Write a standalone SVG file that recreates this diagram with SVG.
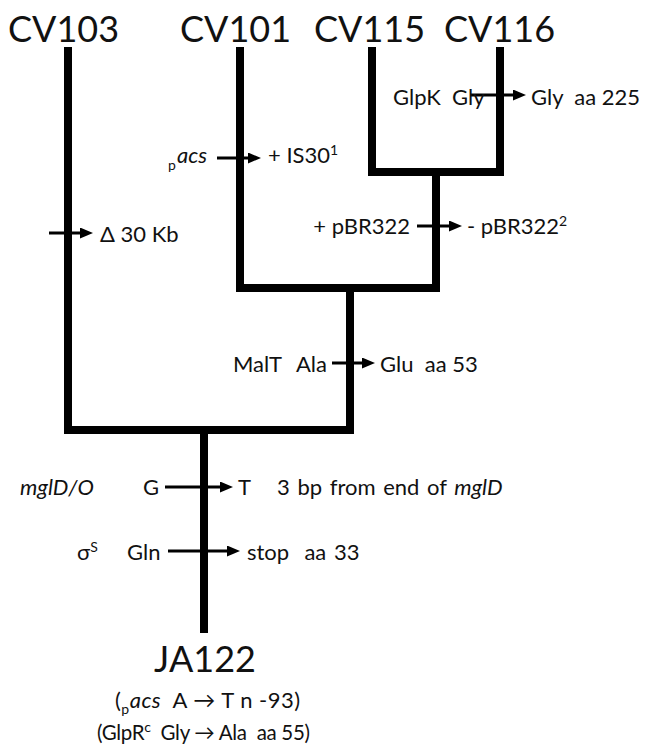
<svg xmlns="http://www.w3.org/2000/svg" width="645" height="747" viewBox="0 0 645 747">
<style>
  text { font-family: Lato, "Open Sans", "Liberation Sans", sans-serif; fill: #111; white-space: pre; }
  .big { font-size: 36px; }
  .lbl { font-size: 22px; }
  .it { font-style: italic; }
  .sm { font-size: 14px; }
  .ws { word-spacing: 2px; }
  .tree { fill: none; stroke: #000; stroke-width: 8; stroke-linejoin: miter; stroke-linecap: butt; }
  .arr { stroke: #000; stroke-width: 3; marker-end: url(#ah); }
</style>
<defs>
  <marker id="ah" markerUnits="userSpaceOnUse" markerWidth="14" markerHeight="11" refX="4" refY="5.5" orient="auto">
    <path d="M0,0 L13,5.5 L0,11 Z" fill="#000"/>
  </marker>
</defs>

<g id="connectors">
  <path class="tree" d="M68,47 V430 H350 V288"/>
  <path class="tree" d="M240,47 V288 H436 V172"/>
  <path class="tree" d="M372,47 V172 H500 V47"/>
  <path class="tree" d="M204,430 V633"/>
  <line class="arr" x1="470" y1="95" x2="517" y2="95"/>
  <line class="arr" x1="217" y1="158" x2="252" y2="158"/>
  <line class="arr" x1="49" y1="233" x2="84" y2="233"/>
  <line class="arr" x1="417" y1="226" x2="453" y2="226"/>
  <line class="arr" x1="332" y1="363" x2="366" y2="363"/>
  <line class="arr" x1="165" y1="487" x2="224" y2="487"/>
  <line class="arr" x1="168" y1="551" x2="231" y2="551"/>
</g>

<g id="CV103"><text class="big" x="8" y="42">CV103</text></g>
<g id="CV101"><text class="big" x="180" y="42">CV101</text></g>
<g id="CV115"><text class="big" x="314" y="42">CV115</text></g>
<g id="CV116"><text class="big" x="444" y="42">CV116</text></g>

<g id="mut-glpk">
  <text class="lbl" x="393" y="105">GlpK  Gly</text>
  <text class="lbl" x="531" y="105">Gly  aa 225</text>
</g>
<g id="mut-acs">
  <text class="sm" x="168" y="170">p</text>
  <text class="lbl it" x="177" y="163">acs</text>
  <text class="lbl" x="268" y="163">+ IS30<tspan class="sm" dy="-8">1</tspan></text>
</g>
<g id="mut-del">
  <text class="lbl" x="100" y="242">Δ 30 Kb</text>
</g>
<g id="mut-pbr">
  <text class="lbl" x="410" y="234" text-anchor="end">+ pBR322</text>
  <text class="lbl" x="467" y="234">- pBR322<tspan class="sm" dy="-8">2</tspan></text>
</g>
<g id="mut-malt">
  <text class="lbl" x="233" y="372">MalT</text>
  <text class="lbl" x="327" y="372" text-anchor="end">Ala</text>
  <text class="lbl" x="380" y="372">Glu  aa 53</text>
</g>
<g id="mut-mgl">
  <text class="lbl it" x="20" y="495">mglD/O</text>
  <text class="lbl" x="143" y="495">G</text>
  <text class="lbl" x="238" y="495">T</text>
  <text class="lbl ws" x="277" y="495">3 bp from end of <tspan class="it">mglD</tspan></text>
</g>
<g id="mut-rpos">
  <text class="lbl" x="77" y="560">σ<tspan class="sm" dy="-8">S</tspan></text>
  <text class="lbl" x="127" y="560">Gln</text>
  <text class="lbl ws" x="247" y="560">stop  aa 33</text>
</g>

<g id="JA122">
  <text class="big" x="205" y="672" text-anchor="middle">JA122</text>
  <text class="lbl" x="115" y="708" textLength="185" lengthAdjust="spacing">(<tspan class="sm" dy="6">p</tspan><tspan class="it" dy="-6">acs</tspan>  A → T n -93)</text>
  <text class="lbl" x="97" y="740" style="font-size:20.5px" textLength="213" lengthAdjust="spacing">(GlpR<tspan class="sm" dy="-8">c</tspan><tspan dy="8">  Gly → Ala  aa 55)</tspan></text>
</g>
</svg>
